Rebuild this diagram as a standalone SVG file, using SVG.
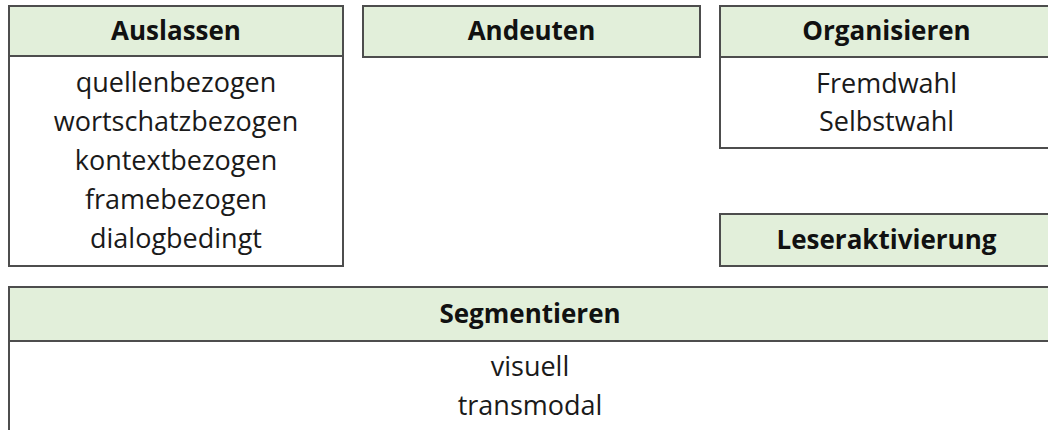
<svg xmlns="http://www.w3.org/2000/svg" width="1048" height="430" viewBox="0 0 1048 430">
<style>
.box{fill:#ffffff;stroke:#4d4d4d;stroke-width:2}
.head{fill:#e2efda;stroke:#4d4d4d;stroke-width:2}
.t{font-family:"Open Sans","Liberation Sans",sans-serif;font-size:27px;fill:#1a1a1a;text-anchor:middle}
.h{font-family:"Open Sans","Liberation Sans",sans-serif;font-size:26px;font-weight:bold;fill:#111111;text-anchor:middle}
</style>
<rect width="1048" height="430" fill="#ffffff"/>
<g id="auslassen">
<rect class="box" x="9" y="6" width="334" height="260"/>
<rect class="head" x="9" y="6" width="334" height="50"/>
<text class="h" x="176" y="40">Auslassen</text>
<text class="t" x="176" y="92">quellenbezogen</text>
<text class="t" x="176" y="131">wortschatzbezogen</text>
<text class="t" x="176" y="170">kontextbezogen</text>
<text class="t" x="176" y="209">framebezogen</text>
<text class="t" x="176" y="248">dialogbedingt</text>
</g>
<g id="andeuten">
<rect class="head" x="363" y="6" width="337" height="51"/>
<text class="h" x="531.5" y="40">Andeuten</text>
</g>
<g id="organisieren">
<rect class="box" x="720" y="6" width="335" height="142"/>
<rect class="head" x="720" y="6" width="335" height="51"/>
<text class="h" x="886.5" y="40">Organisieren</text>
<text class="t" x="886.5" y="93">Fremdwahl</text>
<text class="t" x="886.5" y="131">Selbstwahl</text>
</g>
<g id="leseraktivierung">
<rect class="head" x="720" y="214" width="335" height="52"/>
<text class="h" x="886.5" y="249">Leseraktivierung</text>
</g>
<g id="segmentieren">
<rect class="box" x="9" y="287" width="1045" height="160"/>
<rect class="head" x="9" y="287" width="1045" height="54"/>
<text class="h" x="530" y="323">Segmentieren</text>
<text class="t" x="530" y="376">visuell</text>
<text class="t" x="530" y="415">transmodal</text>
</g>
<g id="connectors"/>
</svg>
